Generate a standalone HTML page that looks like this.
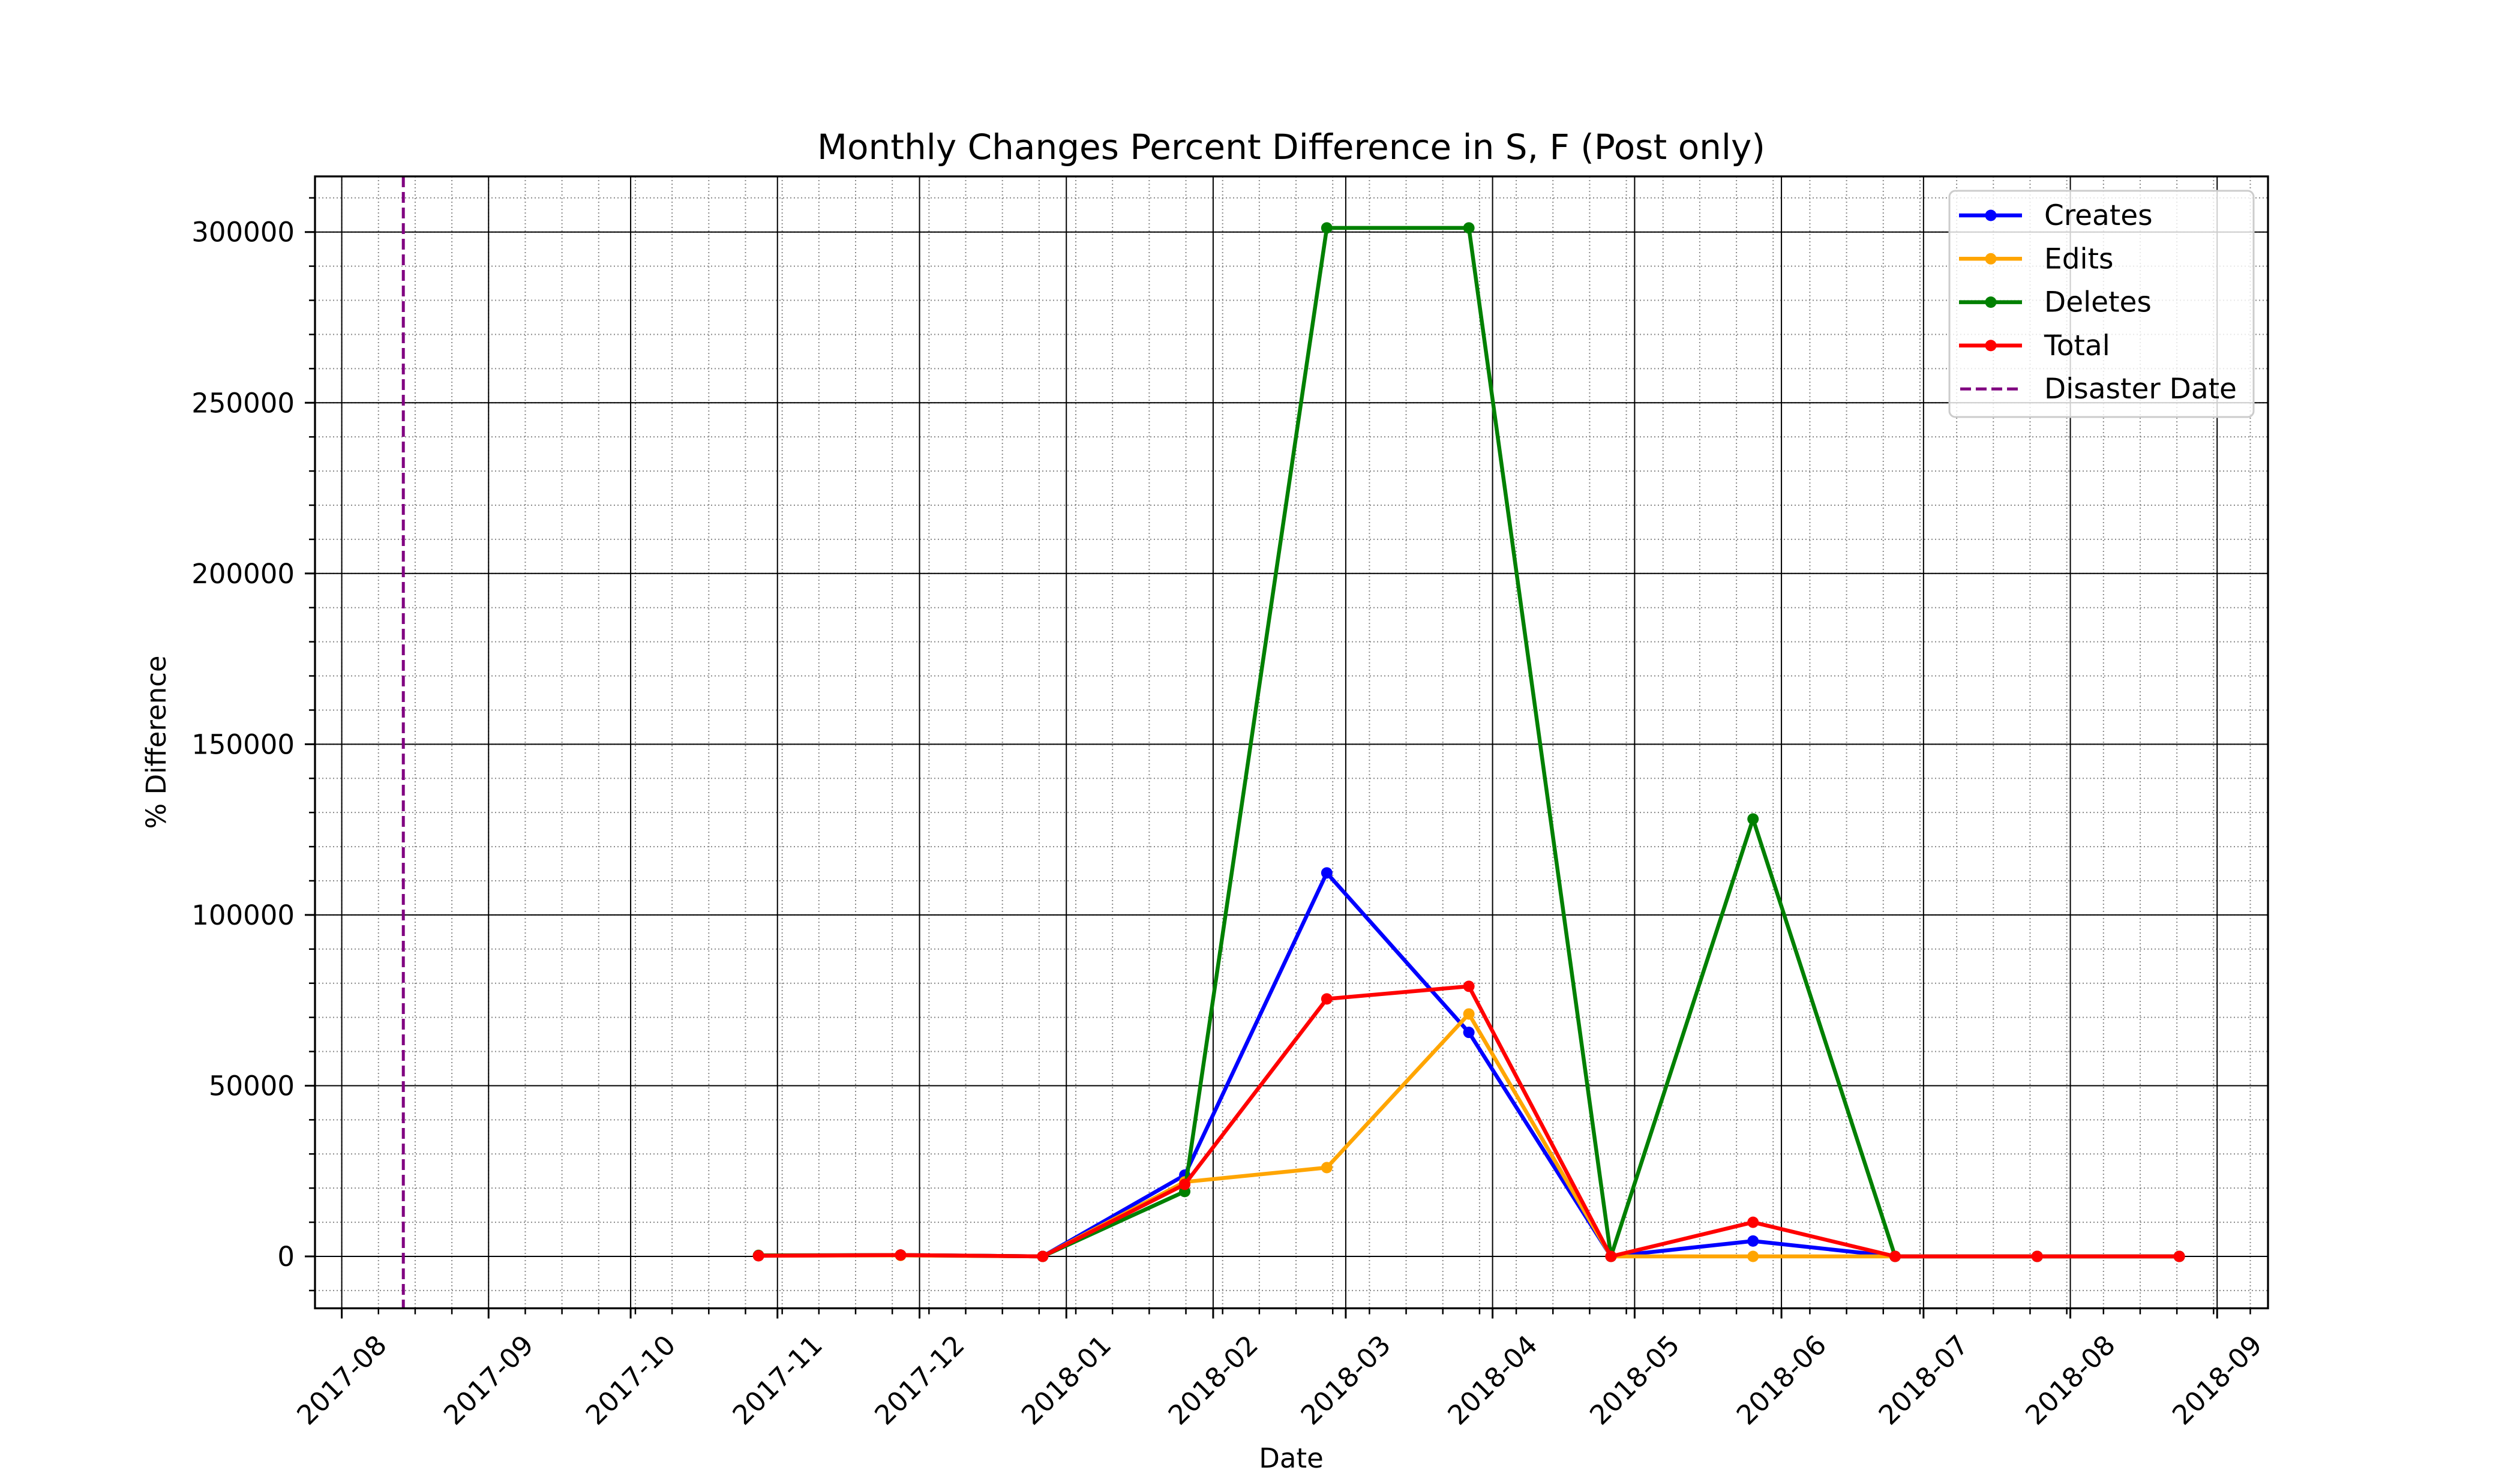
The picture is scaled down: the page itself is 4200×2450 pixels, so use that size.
<!DOCTYPE html>
<html><head><meta charset="utf-8"><style>
html,body{margin:0;padding:0;background:#fff;}
svg{display:block;font-family:"DejaVu Sans","Liberation Sans",sans-serif;}
</style></head><body>
<svg id="chart" width="4200" height="2450" viewBox="0 0 4200 2450">
<rect x="0" y="0" width="4200" height="2450" fill="#fff"/>
<g id="grid"></g>
<g id="series"></g>
<g id="axes"></g>
<text x="2152" y="265" font-size="58" text-anchor="middle">Monthly Changes Percent Difference in S, F (Post only)</text>
<text x="2152" y="2446" font-size="45" text-anchor="middle">Date</text>
<text transform="translate(276,1237) rotate(-90)" font-size="45" text-anchor="middle">% Difference</text>
<g id="legend"></g>
</svg>
<script>
// data: days since 2017-08-01
const pointDays = [88,118,148,178,208,238,268,298,328,358,388];
const creates = [200,400,0,23800,112300,65600,0,4500,0,0,0];
const edits = [200,300,0,21800,26000,71000,0,0,0,0,0];
const deletes = [300,400,0,19000,301200,301200,0,128100,0,0,0];
const total = [200,400,0,21100,75400,79100,0,10000,0,0,0];
const disasterDay = 13;
const yTicks = [0,50000,100000,150000,200000,250000,300000];
const xTickLabels = ["2017-08","2017-09","2017-10","2017-11","2017-12","2018-01","2018-02","2018-03","2018-04","2018-05","2018-06","2018-07","2018-08","2018-09"];
const xTickDays = [0,31,61,92,122,153,184,212,243,273,304,334,365,396];

const L=525,R=3780,T=294,B=2180.5;
const X0=569.6,PXD=7.893;
const Y0=2094,PXU=284.55/50000;
function xs(d){return X0+d*PXD;}
function ys(v){return Y0-v*PXU;}
const NS="http://www.w3.org/2000/svg";
function mk(tag,attrs,parent){const e=document.createElementNS(NS,tag);for(const k in attrs)e.setAttribute(k,attrs[k]);parent.appendChild(e);return e;}
const grid=document.getElementById('grid'),axes=document.getElementById('axes'),ser=document.getElementById('series'),leg=document.getElementById('legend');

for(let k=-1;k<60;k++){const d=k*31/4;const x=xs(d);if(x<L||x>R)continue;
 const g=mk('line',{x1:x,x2:x,y1:T,y2:B,stroke:'#888','stroke-width':2,'stroke-dasharray':'2,4'},grid);
 
 
 const t=mk('line',{x1:x,x2:x,y1:B,y2:B+10,stroke:'#000','stroke-width':2.5},axes);
 
 }
for(let v=-10000;v<=320000;v+=10000){const y=ys(v);if(y<T||y>B)continue;
 const g=mk('line',{x1:L,x2:R,y1:y,y2:y,stroke:'#888','stroke-width':2,'stroke-dasharray':'2,4'},grid);
 
 
 const t=mk('line',{x1:L-10,x2:L,y1:y,y2:y,stroke:'#000','stroke-width':2.5},axes);
 
 }
xTickDays.forEach((d,i)=>{const x=xs(d);
 const g=mk('line',{x1:x,x2:x,y1:T,y2:B,stroke:'#000','stroke-width':2},grid);
 
 
 const t=mk('line',{x1:x,x2:x,y1:B,y2:B+17,stroke:'#000','stroke-width':3},axes);
 
 
 const lb=mk('text',{transform:`translate(${x},2300) rotate(-45)`,'font-size':45,'text-anchor':'middle','dominant-baseline':'central'},axes);
 lb.textContent=xTickLabels[i];
 
 });
yTicks.forEach(v=>{const y=ys(v);
 const g=mk('line',{x1:L,x2:R,y1:y,y2:y,stroke:'#000','stroke-width':2},grid);
 
 
 const t=mk('line',{x1:L-17,x2:L,y1:y,y2:y,stroke:'#000','stroke-width':3},axes);
 
 
 const lb=mk('text',{x:L-34,y:y+16,'font-size':45,'text-anchor':'end'},axes);
 lb.textContent=String(v);
 
 });
const sp=mk('rect',{x:L,y:T,width:R-L,height:B-T,fill:'none',stroke:'#000','stroke-width':3.3},axes);



const dl=mk('line',{x1:xs(disasterDay),x2:xs(disasterDay),y1:T,y2:B,stroke:'#800080','stroke-width':5,'stroke-dasharray':'18,8'},ser);



const seriesList=[[creates,'#0000ff','creates'],[edits,'#ffa500','edits'],[deletes,'#008000','deletes'],[total,'#ff0000','total']];
seriesList.forEach(([vals,col,nm])=>{
 const pts=vals.map((v,i)=>xs(pointDays[i])+','+ys(v)).join(' ');
 const pl=mk('polyline',{points:pts,fill:'none',stroke:col,'stroke-width':6.5,'stroke-linejoin':'round'},ser);
 
 
 vals.forEach((v,i)=>{const c=mk('circle',{cx:xs(pointDays[i]),cy:ys(v),r:9.5,fill:col},ser);
  
  });
});

const lb=mk('rect',{x:3249,y:318,width:507,height:377,rx:10,fill:'rgba(255,255,255,0.8)',stroke:'#ccc','stroke-width':3},leg);


const legNames=['Creates','Edits','Deletes','Total','Disaster Date'];
const legCols=['#0000ff','#ffa500','#008000','#ff0000','#800080'];
legNames.forEach((n,i)=>{const y=359+i*72.3;
 const g=mk('g',{},leg);
 
 
 if(i<4){mk('line',{x1:3265,x2:3370,y1:y,y2:y,stroke:legCols[i],'stroke-width':6.5},g);
  mk('circle',{cx:3318,cy:y,r:9.5,fill:legCols[i]},g);}
 else mk('line',{x1:3267,x2:3370,y1:y,y2:y,stroke:legCols[i],'stroke-width':5,'stroke-dasharray':'18,8'},g);
 const t=mk('text',{x:3407,y:y+16,'font-size':47},g);t.textContent=n;});
</script>
</body></html>
